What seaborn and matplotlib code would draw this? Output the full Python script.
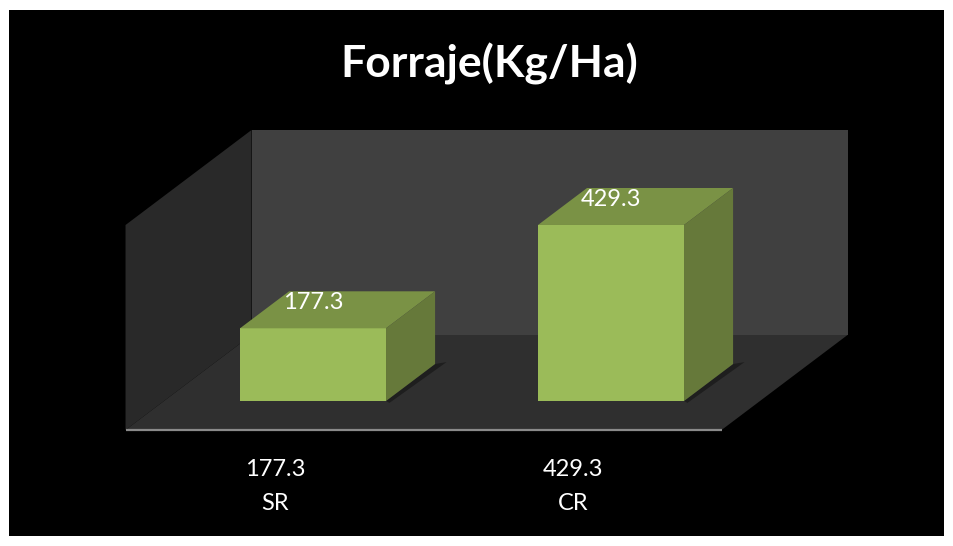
import matplotlib
matplotlib.use("Agg")
import matplotlib.pyplot as plt
import seaborn as sns
from matplotlib.patches import Polygon, Rectangle
from matplotlib.transforms import IdentityTransform, ScaledTranslation

categories = ["SR", "CR"]
values = [177.3, 429.3]
tick_labels = [f"{v}\n{c}" for v, c in zip(values, categories)]
title = "Forraje(Kg/Ha)"
y_max = 500

sns.set_theme(style="white")
plt.rcParams['font.family'] = ['Lato', 'DejaVu Sans']

W, H, DPI = 954, 546, 100
fig = plt.figure(figsize=(W / DPI, H / DPI), dpi=DPI, facecolor='white')
fig.add_artist(Rectangle((9 / W, 10 / H), 935 / W, 526 / H, transform=fig.transFigure,
                         facecolor='black', edgecolor='none', zorder=0))

ax = fig.add_axes([164 / W, 145 / H, 596 / W, 205 / H])
ax.set_facecolor('none')

FRONT = "#9BBB59"
TOP = "#7A9245"
SIDE = "#66793A"

sns.barplot(x=categories, y=values, color=FRONT, saturation=1, width=0.49, ax=ax,
            zorder=3, edgecolor='none', linewidth=0)
bars = list(ax.patches)
ax.set_xlim(-0.5, 1.5)
ax.set_ylim(0, y_max)
for s in ax.spines.values():
    s.set_visible(False)
ax.set_yticks([])
ax.set_ylabel("")
ax.set_xlabel("")

# depth projection (display pixels)
DX, DY = 126.0, 95.0
d0 = 29 / 95          # plane of bar fronts (axes plane)
d1 = 66 / 95          # plane of bar backs


def P(x, y, d):
    px, py = ax.transData.transform((x, y))
    return (px + (d - d0) * DX, py + (d - d0) * DY)


xl, xr = ax.get_xlim()
ident = IdentityTransform()


def poly(pts, color, z):
    p = Polygon(pts, closed=True, facecolor=color, edgecolor='none',
                transform=ident, zorder=z, clip_on=False)
    ax.add_patch(p)


# walls and floor
poly([P(xl, 0, 0), P(xl, 0, 1), P(xl, y_max, 1), P(xl, y_max, 0)], "#292929", 0.5)
poly([P(xl, 0, 1), P(xr, 0, 1), P(xr, y_max, 1), P(xl, y_max, 1)], "#404040", 0.5)
poly([P(xl, 0, 0), P(xr, 0, 0), P(xr, 0, 1), P(xl, 0, 1)], "#2F2F2F", 0.6)
a, b = P(xl, 0, 0), P(xr, 0, 0)
ax.plot([a[0], b[0]], [a[1], b[1]], color="#8A8A8A", lw=1.6, transform=ident,
        clip_on=False, zorder=0.7, solid_capstyle='butt')

# 3D bar faces
for bar in bars:
    x0, w, top = bar.get_x(), bar.get_width(), bar.get_height()
    # soft shadow
    poly([P(x0 + w, 0, d0), P(x0 + w + 0.02, 0, d0 - 0.02), P(x0 + w + 0.03, 0, d1 + 0.02),
          P(x0 + w, 0, d1)], "#1E1E1E", 0.8)
    poly([P(x0, top, d0), P(x0 + w, top, d0), P(x0 + w, top, d1), P(x0, top, d1)], TOP, 3.5)
    poly([P(x0 + w, 0, d0), P(x0 + w, 0, d1), P(x0 + w, top, d1), P(x0 + w, top, d0)], SIDE, 3.5)
    ax.annotate(f"{top}", xy=(x0 + w / 2, top), xytext=(0, 18.5), textcoords='offset points',
                ha='center', va='center', color='white', fontsize=17, zorder=5)

ax.set_xticks(range(len(categories)))
ax.set_xticklabels(tick_labels, color='white', fontsize=17, linespacing=1.8)
ax.tick_params(axis='x', length=0, pad=41.5)
shift = ScaledTranslation(-38 / DPI, 0, fig.dpi_scale_trans)
for lab in ax.get_xticklabels():
    lab.set_transform(lab.get_transform() + shift)

fig.text(489 / W, 1 - 64 / H, title, fontsize=32, fontweight='bold', color='white',
         ha='center', va='center')

fig.savefig("out.png", dpi=DPI, facecolor='white')
